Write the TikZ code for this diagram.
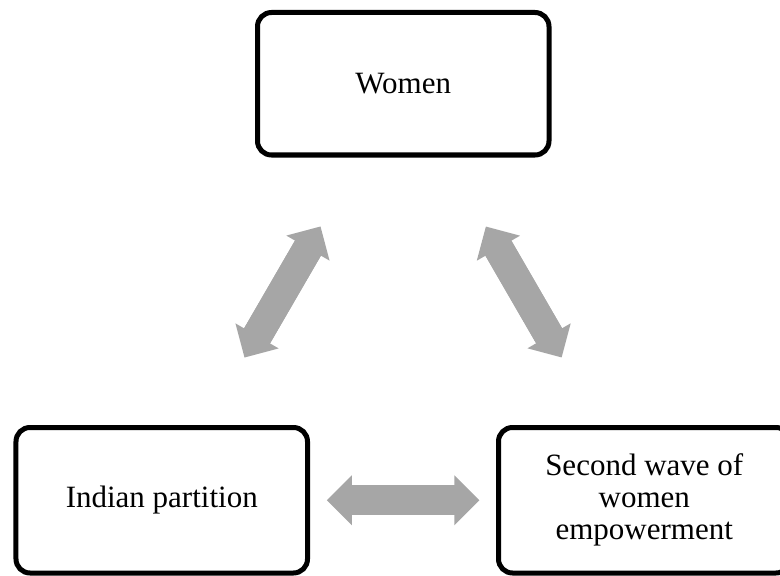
\documentclass[tikz,border=0pt]{standalone}
\usepackage{fontspec}
\setmainfont{Liberation Serif}
\usetikzlibrary{arrows.meta}
\definecolor{arrowgray}{HTML}{A6A6A6}
\tikzset{
  box/.style={draw=black, line width=5bp, rounded corners=14bp, fill=white,
    minimum width=291.5bp, inner sep=0pt, align=center,
    font=\fontsize{31bp}{32bp}\selectfont},
  arrowtip/.tip={Triangle[length=25bp,width=50bp,line width=0pt]},
  bigarrow/.style={draw=arrowgray, line width=30bp, arrowtip-arrowtip,
    shorten <=165bp, shorten >=165bp},
  bigshaft/.style={draw=arrowgray, line width=30bp,
    shorten <=186bp, shorten >=186bp}
}
\begin{document}
\begin{tikzpicture}[x=1bp,y=-1bp]
\useasboundingbox (0,0) rectangle (780,576);
\node[box, minimum height=142.5bp] (women) at (403.25,83.75) {Women};
\node[box, minimum height=145.5bp] (indian) at (161.75,500.25) {Indian partition};
\node[box, minimum height=145.5bp] (second) at (644.25,500.25) {Second wave of\\women\\empowerment};
\draw[bigarrow] (women.center) -- (indian.center);
\draw[bigshaft] (women.center) -- (indian.center);
\draw[bigarrow] (women.center) -- (second.center);
\draw[bigshaft] (women.center) -- (second.center);
\draw[bigarrow] (indian.center) -- (second.center);
\draw[bigshaft] (indian.center) -- (second.center);
\end{tikzpicture}
\end{document}
